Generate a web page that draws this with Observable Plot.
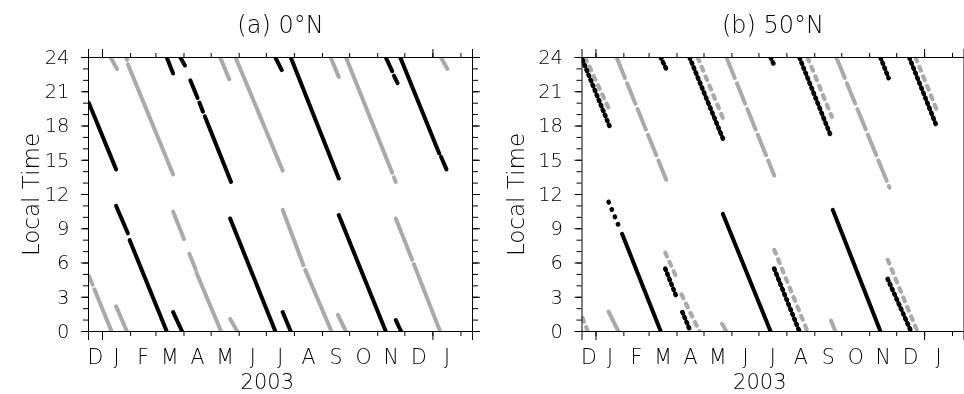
<!DOCTYPE html>
<html>
<head>
<meta charset="utf-8">
<script src="https://cdn.jsdelivr.net/npm/d3@7"></script>
<script src="https://cdn.jsdelivr.net/npm/@observablehq/plot@0.6"></script>
<style>
  html, body { margin: 0; padding: 0; background: #fff; }
  #wrap { position: relative; width: 964px; height: 394px; overflow: hidden; background: #fff; }
  .panel { position: absolute; top: 0; will-change: transform; }
  .panel svg text { font-weight: 200; }
  .panel g[aria-label="panel title"] text { letter-spacing: 2px; word-spacing: 8px; }
  .panel g[aria-label="year label"] text { letter-spacing: 1px; }
</style>
</head>
<body>
<div id="wrap">
  <div class="panel" id="pa" style="left:0px"></div>
  <div class="panel" id="pb" style="left:482px"></div>
</div>
<script>
// ---------------- data ----------------
const titles = ["(a) 0°N", "(b) 50°N"];
const yLabel = "Local Time";
const yearLabel = "2003";
const yearCenter = "2003-07-02";
const xStart = "2002-12-16T12:00Z";
const xEnd = "2004-02-13T18:00Z";
const monthStarts = ["2003-01-01","2003-02-01","2003-03-01","2003-04-01","2003-05-01","2003-06-01",
  "2003-07-01","2003-08-01","2003-09-01","2003-10-01","2003-11-01","2003-12-01","2004-01-01","2004-02-01"];
const monthLetters = ["D","J","F","M","A","M","J","J","A","S","O","N","D","J"];
const yearStarts = ["2003-01-01","2004-01-01"];
const hourMajor = [0,3,6,9,12,15,18,21,24];
const hourMinor = [0,1,2,3,4,5,6,7,8,9,10,11,12,13,14,15,16,17,18,19,20,21,22,23,24];
const colorBlack = "#000000";
const colorGray = "#aaaaaa";

// segments: [start date, start local time, end date, end local time]
const eqBlack = [
  ["2002-12-17", 20.0, "2003-01-16", 14.2],
  ["2003-01-16", 11.0, "2003-01-29", 8.6],
  ["2003-01-31", 8.0, "2003-03-13", 0],
  ["2003-03-13", 24, "2003-03-20", 22.6],
  ["2003-03-20", 1.7, "2003-03-30", 0],
  ["2003-03-28", 24, "2003-04-02", 23.3],
  ["2003-04-08", 22.0, "2003-04-16", 20.45],
  ["2003-04-18", 20.05, "2003-04-22", 19.25],
  ["2003-04-24", 18.85, "2003-05-23", 13.1],
  ["2003-05-22", 9.9, "2003-07-11", 0],
  ["2003-07-11", 24, "2003-07-18", 22.9],
  ["2003-07-19", 1.7, "2003-07-28", 0],
  ["2003-07-28", 24, "2003-09-19", 13.4],
  ["2003-09-19", 10.2, "2003-11-10", 0],
  ["2003-11-10", 24, "2003-11-17", 22.8],
  ["2003-11-19", 22.4, "2003-11-23", 21.75],
  ["2003-11-21", 1.0, "2003-11-27", 0],
  ["2003-11-26", 24, "2004-01-08", 15.6],
  ["2004-01-10", 15.3, "2004-01-16", 14.2]
];
const eqGray = [
  ["2002-12-17", 4.85, "2002-12-21", 4.1],
  ["2002-12-23", 3.7, "2003-01-11", 0],
  ["2003-01-10", 24, "2003-01-17", 23.0],
  ["2003-01-16", 2.2, "2003-01-28", 0],
  ["2003-01-27", 24, "2003-01-28", 23.8],
  ["2003-01-29", 23.4, "2003-03-20", 13.75],
  ["2003-03-20", 10.5, "2003-04-01", 8.1],
  ["2003-04-07", 6.8, "2003-04-14", 5.4],
  ["2003-04-15", 5.1, "2003-05-12", 0],
  ["2003-05-11", 24, "2003-05-21", 22.1],
  ["2003-05-22", 1.1, "2003-05-30", 0],
  ["2003-05-28", 24, "2003-07-19", 14.1],
  ["2003-07-19", 10.66, "2003-08-11", 5.8],
  ["2003-08-13", 5.4, "2003-09-11", 0],
  ["2003-09-10", 24, "2003-09-19", 22.3],
  ["2003-09-18", 1.45, "2003-09-27", 0],
  ["2003-09-27", 24, "2003-11-17", 13.9],
  ["2003-11-19", 13.5, "2003-11-21", 13.1],
  ["2003-11-21", 9.9, "2003-12-09", 6.3],
  ["2003-12-11", 5.9, "2004-01-09", 0],
  ["2004-01-10", 24, "2004-01-17", 23.0]
];
// 50N: [start, LT, end, LT, sampling style]
const midBlack = [
  ["2002-12-17", 23.8, "2003-01-16", 18.0, "dot"],
  ["2003-01-15", 11.35, "2003-01-26", 9.3, "sparse"],
  ["2003-01-30", 8.56, "2003-03-14", 0, "solid"],
  ["2003-03-14", 24, "2003-03-20", 23.0, "dot"],
  ["2003-03-19", 5.5, "2003-04-01", 2.93, "dot"],
  ["2003-04-07", 1.7, "2003-04-16", 0, "dot"],
  ["2003-04-15", 24, "2003-05-22", 16.9, "dot"],
  ["2003-05-22", 10.3, "2003-07-14", 0, "solid"],
  ["2003-07-14", 24, "2003-07-18", 23.3, "dot"],
  ["2003-07-18", 5.5, "2003-08-15", 0, "dot"],
  ["2003-08-15", 24, "2003-09-19", 17.1, "dot"],
  ["2003-09-21", 10.66, "2003-11-13", 0, "solid"],
  ["2003-11-13", 24, "2003-11-22", 22.2, "dot"],
  ["2003-11-21", 4.6, "2003-12-17", 0, "dot"],
  ["2003-12-15", 24, "2004-01-15", 17.85, "dot"]
];
const midGray = [
  ["2002-12-17", 1.2, "2002-12-23", 0, "dot"],
  ["2002-12-20", 24, "2003-01-16", 19.4, "dot"],
  ["2003-01-15", 1.75, "2003-01-26", 0, "solid"],
  ["2003-01-24", 24, "2003-03-20", 13.3, "dash"],
  ["2003-03-19", 6.9, "2003-04-02", 4.47, "dot"],
  ["2003-04-06", 3.24, "2003-04-26", 0, "dot"],
  ["2003-04-24", 24, "2003-05-23", 18.5, "dot"],
  ["2003-05-21", 0.67, "2003-05-26", 0, "solid"],
  ["2003-05-26", 24, "2003-07-18", 13.66, "dash"],
  ["2003-07-18", 7.15, "2003-08-24", 0, "dot"],
  ["2003-08-24", 24, "2003-09-20", 18.8, "dot"],
  ["2003-09-19", 0.96, "2003-09-24", 0, "solid"],
  ["2003-09-25", 24, "2003-11-23", 12.6, "dash"],
  ["2003-11-21", 6.28, "2003-12-24", 0, "dot"],
  ["2003-12-22", 24, "2004-01-15", 19.3, "dot"]
];

// ---------------- drawing ----------------
const d = s => new Date(s.length === 10 ? s + "T00:00Z" : s);
const domainX = [d(xStart), d(xEnd)];
const bounds = [domainX[0], ...monthStarts.map(d)];
const monthRows = monthLetters.map((label, i) => ({
  date: new Date((+bounds[i] + Math.min(+bounds[i + 1], +domainX[1])) / 2), label
}));
const monthTicks = monthStarts.map(d);
const longTicks = [domainX[0], ...yearStarts.map(d), domainX[1]];

const toRows = (arr, color) => arr.map(([t1, y1, t2, y2, style = "solid"]) =>
  ({x1: d(t1), y1, x2: d(t2), y2, color, style}));

const dashFor = {
  black: {solid: null, dot: "1.2 4.2", sparse: "0.5 7.5"},
  gray: {solid: null, dot: "4 6.2", dash: "22 5.8"}
};
const widthFor = {black: {solid: 4, dot: 4.6, sparse: 4.6}, gray: {solid: 4, dot: 4.2, dash: 4}};

function segMarks(rows, key) {
  const styles = Array.from(new Set(rows.map(r => r.style)));
  return styles.map(s => Plot.link(rows.filter(r => r.style === s), {
    x1: r => r.x1, y1: r => r.y1, x2: r => r.x2, y2: r => r.y2,
    stroke: r => r.color,
    strokeWidth: widthFor[key][s],
    strokeLinecap: "round",
    strokeDasharray: dashFor[key][s] || undefined,
    clip: true
  }));
}

function panel(title, black, gray, o) {
  const noText = () => "";
  return Plot.plot({
    width: 482, height: 394,
    marginLeft: o.ml, marginRight: o.mr, marginTop: 57, marginBottom: 63,
    x: {type: "utc", domain: domainX},
    y: {domain: [0, 24]},
    color: {type: "identity"},
    style: {fontFamily: "'DejaVu Sans', sans-serif", background: "transparent", color: "black", overflow: "visible"},
    marks: [
      ...segMarks(toRows(gray, colorGray), "gray"),
      ...segMarks(toRows(black, colorBlack), "black"),
      Plot.frame({stroke: "black", strokeWidth: 1}),
      Plot.axisY(hourMinor, {anchor: "left", tickSize: 5, tickFormat: noText, label: null}),
      Plot.axisY(hourMajor, {anchor: "left", tickSize: 7, tickPadding: 12, fontSize: 19.5, label: null}),
      Plot.axisY(hourMinor, {anchor: "right", tickSize: 5, tickFormat: noText, label: null}),
      Plot.axisY(hourMajor, {anchor: "right", tickSize: 7, tickFormat: noText, label: null}),
      Plot.axisX(monthTicks, {anchor: "bottom", tickSize: 5, tickFormat: noText, label: null}),
      Plot.axisX(longTicks, {anchor: "bottom", tickSize: 9, tickFormat: noText, label: null}),
      Plot.axisX(monthTicks, {anchor: "top", tickSize: 5, tickFormat: noText, label: null}),
      Plot.axisX(longTicks, {anchor: "top", tickSize: 9, tickFormat: noText, label: null}),
      Plot.text(monthRows, {x: "date", text: "label", frameAnchor: "bottom", dy: 32, lineAnchor: "bottom", fontSize: 20.5, fill: "black"}),
      Plot.text([{date: d(yearCenter), label: yearLabel}], {x: "date", text: "label", frameAnchor: "bottom", dy: 57, lineAnchor: "bottom", fontSize: 21, fill: "black", ariaLabel: "year label"}),
      Plot.text([title], {text: t => t, frameAnchor: "top", dy: -24.5, lineAnchor: "bottom", fontSize: 24, fill: "black", ariaLabel: "panel title"}),
      Plot.text([yLabel], {text: t => t, frameAnchor: "left", dx: o.ldx, rotate: -90, lineAnchor: "bottom", textAnchor: "middle", fontSize: 23, fill: "black"})
    ]
  });
}

document.getElementById("pa").appendChild(panel(titles[0], eqBlack, eqGray, {ml: 88, mr: 10, ldx: -49.5}));
document.getElementById("pb").appendChild(panel(titles[1], midBlack, midGray, {ml: 99.5, mr: 0.5, ldx: -57.8}));
</script>
</body>
</html>
